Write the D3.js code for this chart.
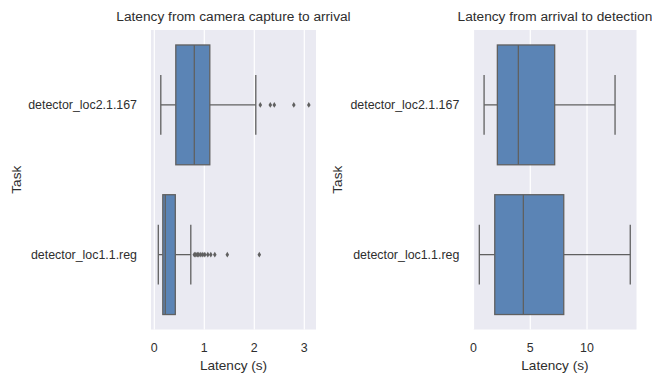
<!DOCTYPE html>
<html>
<head>
<meta charset="utf-8">
<script src="https://cdn.jsdelivr.net/npm/d3@7"></script>
<style>
  body { margin: 0; background: #fff; }
  text { font-family: "Liberation Sans", Arial, sans-serif; fill: #2e2e2e; }
</style>
</head>
<body>
<div id="vis"></div>
<script>
// categories (top to bottom)
const TASKS = ["detector_loc2.1.167", "detector_loc1.1.reg"];

// panel 1: camera capture -> arrival (seconds)
const CAP_LO  = [0.13, 0.08];
const CAP_Q1  = [0.43, 0.17];
const CAP_MED = [0.80, 0.22];
const CAP_Q3  = [1.11, 0.42];
const CAP_HI  = [2.03, 0.73];
const CAP_OUT = [
  [2.12, 2.32, 2.40, 2.79, 3.09],
  [0.80, 0.83, 0.86, 0.89, 0.93, 0.97, 1.01, 1.07, 1.13, 1.21, 1.46, 2.10]
];
const CAP_TICKS = [0, 1, 2, 3];
const CAP_DOMAIN = [-0.066, 3.234];

// panel 2: arrival -> detection (seconds)
const DET_LO  = [0.93, 0.51];
const DET_Q1  = [2.10, 1.87];
const DET_MED = [3.95, 4.39];
const DET_Q3  = [7.15, 7.95];
const DET_HI  = [12.47, 13.81];
const DET_OUT = [[], []];
const DET_TICKS = [0, 5, 10];
const DET_DOMAIN = [-0.02, 14.36];

const WIDTH = 652;
const HEIGHT = 376;
const TOP = 30, BOTTOM = 329.5;
const BOX_FILL = "#5b84b5";
const LINE = "#606060";

const svg = d3.select("#vis")
  .append("svg")
    .attr("width", WIDTH)
    .attr("height", HEIGHT);

function panel(opts) {
  const X = d3.scaleLinear().domain(opts.domain).range([opts.left, opts.right]);
  const Y = d3.scaleBand().domain(TASKS).range([TOP, BOTTOM]).padding(0);
  const bw = Y.bandwidth() * 0.8;
  const g = svg.append("g");

  // background
  g.append("rect")
    .attr("x", opts.left).attr("y", TOP)
    .attr("width", opts.right - opts.left).attr("height", BOTTOM - TOP)
    .attr("fill", "#eaeaf2");

  // grid
  g.selectAll(".grid")
    .data(opts.ticks)
    .enter().append("line")
      .attr("x1", d => X(d)).attr("x2", d => X(d))
      .attr("y1", TOP).attr("y2", BOTTOM)
      .attr("stroke", "#fff").attr("stroke-width", 1.2);

  const rows = TASKS.map((t, i) => ({
    task: t, lo: opts.lo[i], q1: opts.q1[i], med: opts.med[i],
    q3: opts.q3[i], hi: opts.hi[i], out: opts.out[i]
  }));

  const box = g.selectAll(".box").data(rows).enter().append("g");
  const cy = d => Y(d.task) + Y.bandwidth() / 2;

  // whiskers
  box.append("line")
    .attr("x1", d => X(d.lo)).attr("x2", d => X(d.q1))
    .attr("y1", cy).attr("y2", cy);
  box.append("line")
    .attr("x1", d => X(d.q3)).attr("x2", d => X(d.hi))
    .attr("y1", cy).attr("y2", cy);
  // caps
  box.append("line")
    .attr("x1", d => X(d.lo)).attr("x2", d => X(d.lo))
    .attr("y1", d => cy(d) - bw / 4).attr("y2", d => cy(d) + bw / 4);
  box.append("line")
    .attr("x1", d => X(d.hi)).attr("x2", d => X(d.hi))
    .attr("y1", d => cy(d) - bw / 4).attr("y2", d => cy(d) + bw / 4);
  // box
  box.append("rect")
    .attr("x", d => X(d.q1)).attr("width", d => X(d.q3) - X(d.q1))
    .attr("y", d => cy(d) - bw / 2).attr("height", bw)
    .attr("fill", BOX_FILL);
  // median
  box.append("line")
    .attr("x1", d => X(d.med)).attr("x2", d => X(d.med))
    .attr("y1", d => cy(d) - bw / 2).attr("y2", d => cy(d) + bw / 2);

  box.selectAll("line, rect")
    .attr("stroke", LINE).attr("stroke-width", 1.3);

  // outliers (thin diamonds)
  box.each(function(d) {
    d3.select(this).selectAll(".flier")
      .data(d.out)
      .enter().append("path")
        .attr("d", v => {
          const x = X(v), y = cy(d);
          return `M${x},${y - 2.8}L${x + 1.8},${y}L${x},${y + 2.8}L${x - 1.8},${y}Z`;
        })
        .attr("fill", LINE);
  });

  // x ticks
  g.selectAll(".xt").data(opts.ticks).enter().append("text")
    .attr("x", d => X(d)).attr("y", BOTTOM + 22.5)
    .attr("text-anchor", "middle")
    .attr("font-size", "12.4px")
    .text(d => d);

  // y ticks
  g.selectAll(".yt").data(TASKS).enter().append("text")
    .attr("x", opts.left - 14).attr("y", d => Y(d) + Y.bandwidth() / 2)
    .attr("dy", "0.35em")
    .attr("text-anchor", "end")
    .attr("font-size", "12.4px")
    .text(d => d);

  // labels
  g.append("text")
    .attr("x", (opts.left + opts.right) / 2).attr("y", 370)
    .attr("text-anchor", "middle").attr("font-size", "13.6px")
    .text("Latency (s)");
  g.append("text")
    .attr("transform", `translate(${opts.labelX},${(TOP + BOTTOM) / 2}) rotate(-90)`)
    .attr("text-anchor", "middle").attr("font-size", "13.6px")
    .text("Task");
  g.append("text")
    .attr("x", (opts.left + opts.right) / 2).attr("y", 20.5)
    .attr("text-anchor", "middle").attr("font-size", "13.7px")
    .text(opts.title);
}

panel({
  left: 151, right: 316, domain: CAP_DOMAIN, ticks: CAP_TICKS,
  lo: CAP_LO, q1: CAP_Q1, med: CAP_MED, q3: CAP_Q3, hi: CAP_HI, out: CAP_OUT,
  labelX: 20.5, title: "Latency from camera capture to arrival"
});
panel({
  left: 473.3, right: 636.5, domain: DET_DOMAIN, ticks: DET_TICKS,
  lo: DET_LO, q1: DET_Q1, med: DET_MED, q3: DET_Q3, hi: DET_HI, out: DET_OUT,
  labelX: 341.5, title: "Latency from arrival to detection"
});
</script>
</body>
</html>
